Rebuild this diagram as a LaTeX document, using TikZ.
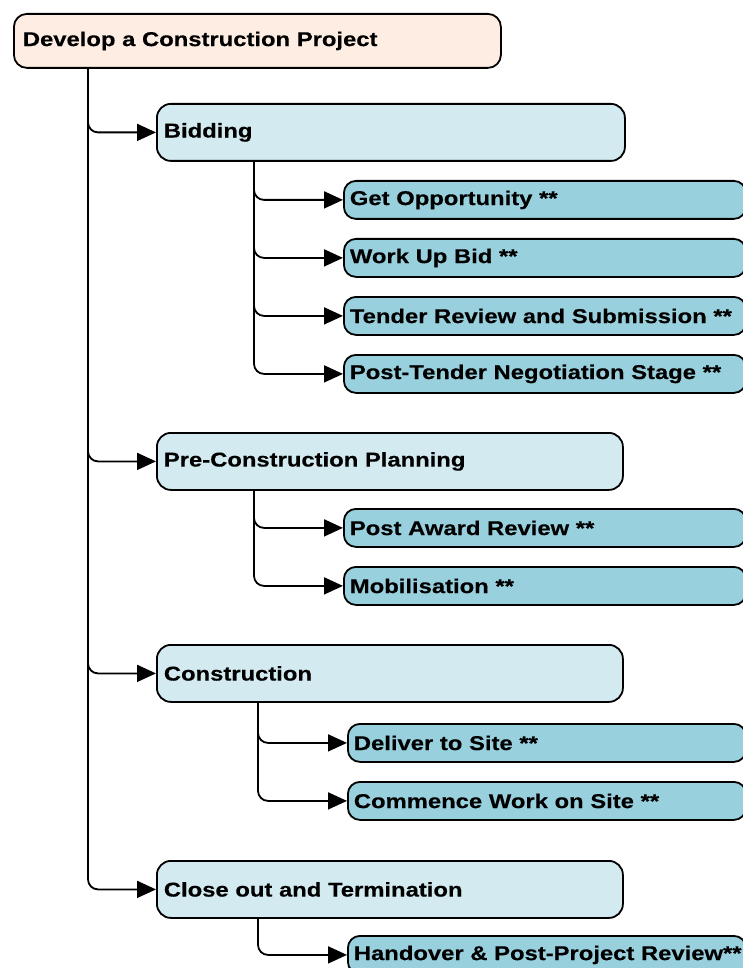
\documentclass[tikz,border=0pt]{standalone}
\usepackage{fontspec}
\newfontfamily\lblfont[FakeStretch=1.19,FakeBold=0.3]{Liberation Sans Bold}
\usetikzlibrary{arrows.meta}
\definecolor{rootfill}{RGB}{253,237,227}
\definecolor{midfill}{RGB}{210,234,240}
\definecolor{leaffill}{RGB}{152,208,222}
\tikzset{
  box/.style={draw=black, line width=1.8pt, rectangle, anchor=north west, align=left,
    inner ysep=0pt, font=\lblfont\fontsize{20}{24}\selectfont},
  rootbox/.style={box, fill=rootfill, rounded corners=13pt, inner xsep=9pt, minimum height=54pt, text width=469pt},
  midbox/.style={box, fill=midfill, rounded corners=14pt, inner xsep=7pt, minimum height=57pt, text width=#1},
  leafbox/.style={box, fill=leaffill, rounded corners=12pt, inner xsep=6pt, minimum height=38pt, text width=#1},
  conn/.style={line width=1.8pt, rounded corners=10pt, -{Triangle[length=19pt,width=17pt]}},
}
\begin{document}
\begin{tikzpicture}[x=1pt,y=1pt]
\useasboundingbox (0,0) rectangle (743,-968);
\clip (0,0) rectangle (743,-968);
\node[rootbox] (root) at (13,-13) {Develop a Construction Project};

\node[midbox=454pt] (bid) at (156,-103) {Bidding};
\node[midbox=452pt] (pre) at (156,-432) {Pre-Construction Planning};
\node[midbox=452pt] (con) at (156,-644) {Construction};
\node[midbox=452pt] (clo) at (156,-860) {Close out and Termination};

\node[leafbox=390pt] (go)  at (343,-180) {Get Opportunity **};
\node[leafbox=390pt] (wub) at (343,-238) {Work Up Bid **};
\node[leafbox=390pt] (trs) at (343,-296) {\mbox{Tender Review and Submission **}};
\node[leafbox=390pt] (pts) at (343,-354) {\mbox{Post-Tender Negotiation Stage **}};
\node[leafbox=390pt] (par) at (343,-508) {Post Award Review **};
\node[leafbox=390pt] (mob) at (343,-566) {Mobilisation **};
\node[leafbox=386pt] (dts) at (347,-723) {Deliver to Site **};
\node[leafbox=386pt] (cws) at (347,-781) {Commence Work on Site **};
\node[leafbox=386pt] (hpr) at (347,-935) {\mbox{Handover \& Post-Project Review**}};

\foreach \c in {bid,pre,con,clo}
  \draw[conn] ([xshift=75pt]root.south west) |- (\c.west);
\foreach \c in {go,wub,trs,pts}
  \draw[conn] ([xshift=98pt]bid.south west) |- (\c.west);
\foreach \c in {par,mob}
  \draw[conn] ([xshift=98pt]pre.south west) |- (\c.west);
\foreach \c in {dts,cws}
  \draw[conn] ([xshift=102pt]con.south west) |- (\c.west);
\draw[conn] ([xshift=102pt]clo.south west) |- (hpr.west);
\end{tikzpicture}
\end{document}
